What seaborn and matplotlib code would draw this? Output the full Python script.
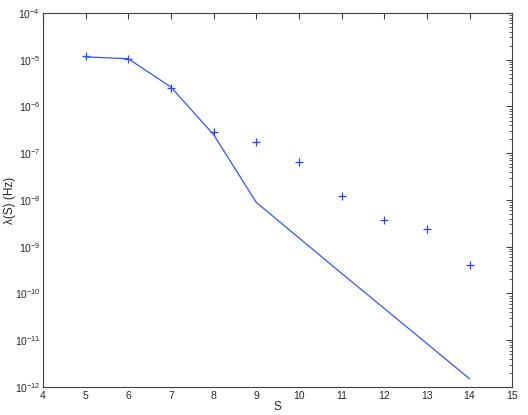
import numpy as np
import pandas as pd
import seaborn as sns
import matplotlib
matplotlib.use("Agg")
import matplotlib.pyplot as plt
from matplotlib.ticker import LogLocator, NullFormatter

# model curve and measured points, lambda(S) in Hz
s_vals = [5, 6, 7, 8, 9, 10, 11, 12, 13, 14]
model_rate = [1.15e-5, 1.05e-5, 2.6e-6, 2.5e-7, 8.9e-9, 1.55e-9, 2.7e-10, 4.8e-11, 8.5e-12, 1.5e-12]
measured_rate = [1.2e-5, 1.05e-5, 2.45e-6, 2.9e-7, 1.7e-7, 6.4e-8, 1.2e-8, 3.7e-9, 2.35e-9, 4.0e-10]

df = pd.DataFrame({"S": s_vals, "model": model_rate, "measured": measured_rate})

sns.set_style("white")
plt.rcParams['font.family'] = ['Liberation Sans', 'DejaVu Sans']
plt.rcParams['mathtext.fontset'] = 'custom'
plt.rcParams['mathtext.rm'] = 'Liberation Sans'

fig = plt.figure(figsize=(5.28, 4.15), dpi=100)
ax = fig.add_axes([0.0814, 0.0675, 0.8886, 0.9012])

sns.lineplot(data=df, x="S", y="model", color="#3355ff", linewidth=0.9, ax=ax)
sns.scatterplot(data=df, x="S", y="measured", marker="+", color="#2244ff", s=36, linewidth=0.9, ax=ax)

ax.set_yscale("log")
ax.set_xlim(4, 15)
ax.set_ylim(1e-12, 1e-4)
ax.set_xticks(range(4, 16))
ax.yaxis.set_major_locator(LogLocator(base=10, numticks=20))
ax.yaxis.set_minor_locator(LogLocator(base=10, subs=np.arange(2, 10), numticks=20))
ax.yaxis.set_minor_formatter(NullFormatter())

ax.set_xlabel("S", fontsize=8.5, labelpad=0)
ax.set_ylabel("λ(S) (Hz)", fontsize=8.5)
ax.yaxis.set_label_coords(-0.058, 0.5)

for sp in ax.spines.values():
    sp.set_linewidth(0.8)
    sp.set_color("#404040")
ax.tick_params(which="both", direction="in", top=True, right=True, labelsize=7.5, color="#404040")
ax.tick_params(which="major", length=4)
ax.tick_params(which="minor", length=2)
ax.tick_params(axis="x", pad=3)
ax.tick_params(axis="y", pad=2)

fig.savefig("out.png", dpi=100)
